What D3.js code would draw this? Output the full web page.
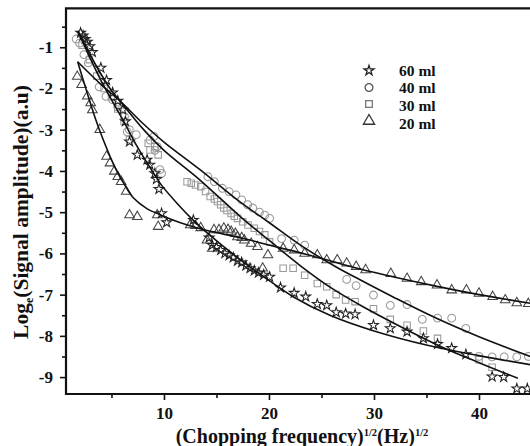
<!DOCTYPE html>
<html>
<head>
<meta charset="utf-8">
<script src="https://cdn.jsdelivr.net/npm/d3@7"></script>
<style>
  body { margin: 0; background: #fff; }
  svg { display: block; }
  text { font-family: "Liberation Serif", "Times New Roman", serif; font-weight: bold; fill: #111; }
</style>
</head>
<body>
<div id="chart"></div>
<script>
// measured points, [sqrt(freq), ln(amplitude)]
const ml60 = [[2.06,-0.65],[2.3,-0.72],[2.5,-0.8],[2.7,-0.87],[2.93,-0.98],[3.18,-1.12],[3.99,-1.5],[4.53,-1.8],
  [5.11,-2.1],[5.6,-2.3],[6.08,-2.52],[6.33,-2.8],[6.72,-3.29],[7.46,-3.61],[8.39,-3.73],[8.65,-3.85],[9.13,-4.06],
  [9.29,-4.2],[9.52,-4.44],[9.77,-5.03],[10.26,-5.25],[12.8,-5.19],[14.3,-5.62],[14.6,-5.8],[15.0,-5.85],[15.4,-5.92],
  [15.8,-6.0],[16.2,-6.05],[16.6,-6.1],[17.0,-6.18],[17.4,-6.22],[17.8,-6.3],[18.2,-6.36],[18.6,-6.42],[19.0,-6.47],
  [19.5,-6.52],[20.06,-6.57],[21.1,-6.83],[22.4,-6.96],[23.5,-7.05],[24.6,-7.23],[25.5,-7.26],[26.4,-7.43],[27.3,-7.46],
  [28.2,-7.48],[29.95,-7.74],[31.55,-7.82],[33.15,-7.9],[34.7,-8.06],[36.05,-8.2],[37.4,-8.3],[38.75,-8.45],
  [41.25,-8.99],[42.35,-9.0],[43.6,-9.28],[44.6,-9.28]];
const ml40 = [[1.64,-0.8],[1.96,-0.9],[2.38,-1.18],[2.8,-1.38],[3.83,-1.96],[4.47,-2.19],[5.1,-2.27],[5.6,-2.45],
  [6.24,-2.68],[6.5,-3.05],[6.7,-3.0],[7.36,-3.12],[8.67,-3.25],[9.04,-3.16],[9.14,-3.5],[9.36,-3.41],[9.62,-3.97],
  [9.77,-4.06],[14.18,-4.14],[14.8,-4.26],[15.56,-4.42],[16.2,-4.5],[16.85,-4.58],[17.4,-4.7],[17.97,-4.82],[18.46,-4.9],
  [19.1,-5.0],[19.6,-5.07],[20.06,-5.15],[21.2,-5.64],[22.4,-5.68],[23.4,-5.8],[27.4,-6.63],[28.3,-6.78],[29.95,-7.01],
  [31.55,-7.26],[33.15,-7.24],[34.6,-7.6],[36.05,-7.57],[37.4,-7.57],[38.75,-7.82],[40.0,-8.5],[41.25,-8.51],
  [42.4,-8.51],[43.6,-8.51],[44.7,-8.5]];
const ml30 = [[2.2,-0.95],[2.9,-1.3],[3.6,-1.7],[4.3,-2.0],[5.0,-2.2],[5.6,-2.5],[6.2,-2.8],[6.72,-3.24],[8.5,-3.33],
  [8.67,-3.49],[9.13,-3.41],[9.45,-3.61],[12.2,-4.26],[12.6,-4.3],[13.0,-4.34],[13.5,-4.38],[13.96,-4.5],[14.4,-4.62],
  [14.8,-4.68],[15.1,-4.74],[15.4,-4.82],[15.7,-4.9],[16.0,-4.96],[16.4,-5.03],[16.7,-5.1],[17.0,-5.15],[17.5,-5.23],
  [18.0,-5.31],[18.6,-5.39],[19.1,-5.47],[19.6,-5.55],[20.06,-5.72],[21.35,-6.36],[22.3,-6.36],[23.4,-6.53],[24.6,-6.73],
  [25.5,-6.81],[26.4,-7.0],[27.3,-7.13],[28.2,-7.17],[29.95,-7.34],[31.55,-7.6],[33.15,-7.74],[34.7,-7.88],[36.05,-8.06],
  [40.0,-8.58],[41.25,-8.76]];
const ml20 = [[1.74,-1.71],[2.16,-1.91],[2.7,-2.19],[3.02,-2.35],[3.18,-2.52],[3.89,-3.0],[4.53,-3.65],[4.86,-3.81],
  [5.27,-4.01],[5.6,-4.14],[5.92,-4.26],[6.4,-4.5],[6.72,-5.07],[7.46,-5.11],[9.36,-5.07],[9.45,-5.35],[12.5,-5.31],
  [13.0,-5.33],[13.5,-5.38],[14.1,-5.68],[14.6,-5.88],[14.76,-5.43],[15.24,-5.43],[15.7,-5.39],[16.1,-5.42],[16.4,-5.47],
  [16.8,-5.52],[17.0,-5.6],[17.4,-5.62],[17.65,-5.68],[18.3,-5.76],[18.9,-5.84],[19.4,-6.36],[19.9,-6.04],[21.35,-5.88],
  [22.4,-5.92],[23.4,-6.0],[24.6,-6.04],[25.5,-6.16],[26.5,-6.16],[27.4,-6.24],[28.3,-6.32],[29.2,-6.4],[31.6,-6.49],
  [33.15,-6.61],[34.5,-6.69],[36.0,-6.77],[37.4,-6.89],[38.8,-6.89],[40.0,-6.97],[41.3,-7.05],[42.5,-7.13],[43.6,-7.2],
  [44.7,-7.22]];

// fitted curves
const fit60 = [[1.84,-0.62],[3,-1.28],[4.4,-2.0],[6,-2.72],[7.5,-3.43],[9,-4.05],[9.78,-4.35],[11.3,-4.8],[12.8,-5.2],
  [14,-5.48],[17.24,-6.15],[19.14,-6.5],[22.3,-7.05],[25.8,-7.5],[30,-7.88],[35.3,-8.24],[40,-8.48],[44.9,-8.7]];
const fit40 = [[1.78,-1.35],[4,-1.9],[5.8,-2.3],[8,-2.85],[10,-3.3],[13.43,-3.97],[17.24,-4.75],[20,-5.25],[23,-5.8],
  [26.4,-6.33],[28.67,-6.64],[32,-7.08],[36,-7.58],[40,-8.02],[44.9,-8.5]];
const fit30 = [[1.8,-0.6],[3,-1.2],[4.86,-2.0],[5.8,-2.3],[8,-2.98],[10,-3.5],[13.43,-4.22],[17.24,-5.1],[20,-5.68],
  [23,-6.3],[26,-6.85],[29,-7.3],[33.1,-7.85],[36.3,-8.25],[40,-8.65],[43.7,-9.03]];
const fit20 = [[1.78,-1.35],[2.68,-2.1],[3.5,-2.75],[4.15,-3.2],[5.4,-3.95],[6.4,-4.4],[7.08,-4.65],[8.3,-4.9],
  [9.62,-5.06],[11.5,-5.25],[13.43,-5.4],[15.5,-5.52],[17.24,-5.62],[19.14,-5.74],[21,-5.86],[23.5,-6.02],[25.8,-6.18],
  [28.67,-6.38],[32,-6.58],[36,-6.8],[40,-7.0],[44.9,-7.21]];

const xMajor = [10, 20, 30, 40];
const xMinor = [5, 15, 25, 35];
const yMajor = [-1, -2, -3, -4, -5, -6, -7, -8, -9];
const yMinor = [-0.5, -1.5, -2.5, -3.5, -4.5, -5.5, -6.5, -7.5, -8.5];
const legendLabels = ["60 ml", "40 ml", "30 ml", "20 ml"];

const W = 530, H = 446;
const padLeft = 66, padTop = 8.3, padBottom = 394, padRight = 531.5;

const svg = d3.select("#chart").append("svg").attr("width", W).attr("height", H);

const x = d3.scaleLinear().domain([0.67, 45]).range([padLeft, padRight]);
const y = d3.scaleLinear().domain([-9.41, -0.055]).range([padBottom, padTop]);

svg.append("clipPath").attr("id", "clip")
  .append("rect").attr("x", padLeft).attr("y", padTop).attr("width", W - padLeft).attr("height", padBottom - padTop);

const series = [
  { pts: ml30, sym: d3.symbolSquare, size: 42, color: "#9a9a9a" },
  { pts: ml40, sym: d3.symbolCircle, size: 48, color: "#9a9a9a" },
  { pts: ml20, sym: d3.symbolTriangle, size: 40, color: "#444" },
  { pts: ml60, sym: d3.symbolStar, size: 30, color: "#222" }
];

const plot = svg.append("g").attr("clip-path", "url(#clip)");

series.forEach(s => {
  plot.append("g").selectAll("path")
    .data(s.pts).enter().append("path")
    .attr("d", d3.symbol().type(s.sym).size(s.size))
    .attr("transform", d => "translate(" + x(d[0]) + "," + y(d[1]) + ")")
    .attr("fill", "none")
    .attr("stroke", s.color)
    .attr("stroke-width", 1.05);
});

const line = d3.line().x(d => x(d[0])).y(d => y(d[1])).curve(d3.curveCatmullRom);
[fit60, fit40, fit30, fit20].forEach(f => {
  plot.append("path").attr("d", line(f))
    .attr("fill", "none").attr("stroke", "#111").attr("stroke-width", 1.6);
});

// axes
const xAxis = svg.append("g").attr("transform", "translate(0," + padBottom + ")");
xAxis.call(d3.axisBottom(x).tickValues(xMajor).tickSize(6).tickPadding(7).tickFormat(d3.format("d")));
const xAxisMinor = svg.append("g").attr("transform", "translate(0," + padBottom + ")");
xAxisMinor.call(d3.axisBottom(x).tickValues(xMinor).tickSize(4).tickFormat(""));

const yAxis = svg.append("g").attr("transform", "translate(" + padLeft + ",0)");
yAxis.call(d3.axisLeft(y).tickValues(yMajor).tickSize(6).tickPadding(7).tickFormat(d => "-" + Math.abs(d)));
const yAxisMinor = svg.append("g").attr("transform", "translate(" + padLeft + ",0)");
yAxisMinor.call(d3.axisLeft(y).tickValues(yMinor).tickSize(4).tickFormat(""));

svg.selectAll(".domain").remove();
svg.selectAll(".tick line").attr("stroke", "#111").attr("stroke-width", 1.6);
svg.selectAll(".tick text").style("font-size", "17px").attr("fill", "#111");

// frame
svg.append("path")
  .attr("d", "M" + W + "," + padTop + "H" + padLeft + "V" + padBottom + "H" + W)
  .attr("fill", "none").attr("stroke", "#111").attr("stroke-width", 2.2);

// axis titles
const xt = svg.append("text").attr("x", 302).attr("y", 443).attr("text-anchor", "middle").style("font-size", "20px");
xt.append("tspan").text("(Chopping frequency)");
xt.append("tspan").attr("dy", -7).style("font-size", "10.5px").text("1/2");
xt.append("tspan").attr("dy", 7).text("(Hz)");
xt.append("tspan").attr("dy", -7).style("font-size", "10.5px").text("1/2");

const yt = svg.append("text").attr("transform", "translate(28,212) rotate(-90)")
  .attr("text-anchor", "middle").style("font-size", "21.5px");
yt.append("tspan").text("Log");
yt.append("tspan").attr("dy", 5).style("font-size", "12px").text("e");
yt.append("tspan").attr("dy", -5).text("(Signal amplitude)(a.u)");

// legend
const legendSym = [d3.symbolStar, d3.symbolCircle, d3.symbolSquare, d3.symbolTriangle];
const legendCol = ["#222", "#555", "#777", "#333"];
const legendSymY = [70.5, 87.5, 104, 121];
const legendTxtY = [75.5, 93, 110.5, 129];
const lg = svg.append("g");
legendLabels.forEach((lab, i) => {
  lg.append("path")
    .attr("d", d3.symbol().type(legendSym[i]).size([30, 48, 44, 55][i]))
    .attr("transform", "translate(369," + legendSymY[i] + ")")
    .attr("fill", "none").attr("stroke", legendCol[i]).attr("stroke-width", 1.3);
  lg.append("text").attr("x", 399).attr("y", legendTxtY[i]).style("font-size", "15.5px").text(lab);
});
</script>
</body>
</html>
